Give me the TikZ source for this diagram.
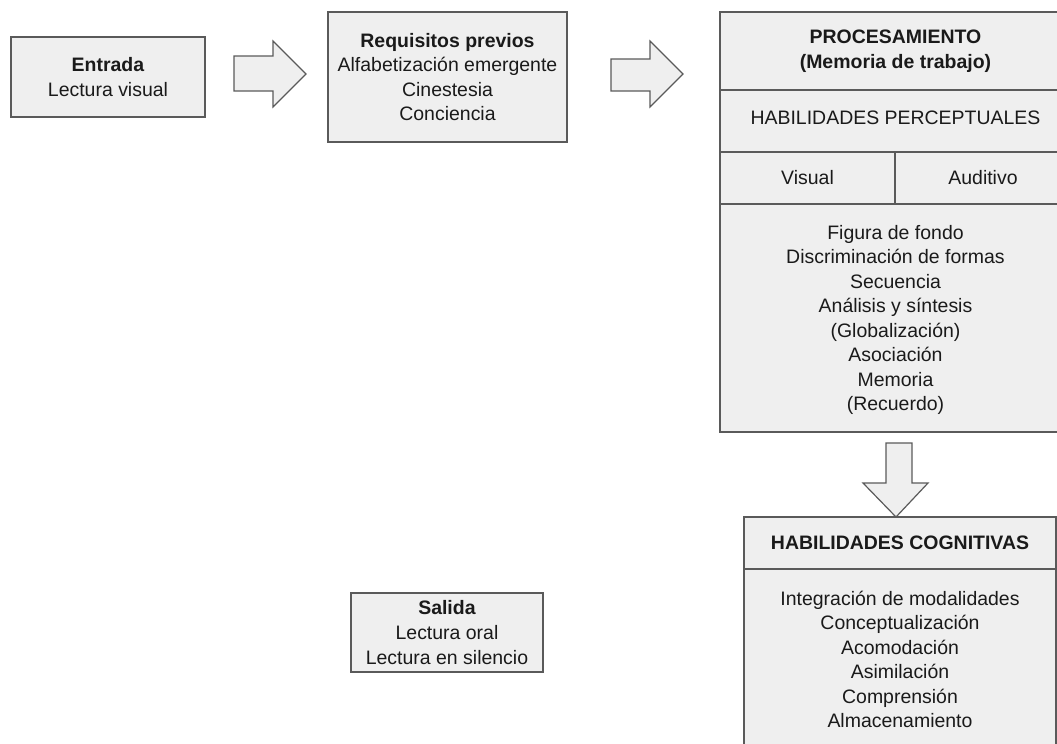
\documentclass[tikz,border=0pt]{standalone}
\usepackage{fontspec}
\setmainfont{Liberation Sans}
\definecolor{boxfill}{HTML}{EFEFEF}
\definecolor{boxline}{HTML}{5A5A5A}
\definecolor{ink}{HTML}{1A1A1A}
\newcommand{\txtfont}{\fontsize{14.6pt}{18.4pt}\selectfont}
\begin{document}
\begin{tikzpicture}[x=0.75pt,y=-0.75pt,
  box/.style={draw=boxline, fill=boxfill, line width=1pt, inner sep=0pt,
    align=center, font=\txtfont, text=ink},
  txt/.style={inner sep=0pt, align=center, font=\txtfont, text=ink},
  blockarrow/.style={draw=boxline, fill=boxfill, line width=0.9pt, line join=miter}]
\useasboundingbox (0,0) rectangle (1057,743);
\clip (0,0) rectangle (1057,743);

% Entrada
\node[box, minimum width=145.5pt, minimum height=60pt] (entrada) at (108,77)
  {\textbf{Entrada}\\Lectura visual};

% Requisitos previos
\node[box, minimum width=179.25pt, minimum height=97.5pt] (req) at (447.5,77)
  {\textbf{Requisitos previos}\\Alfabetización emergente\\Cinestesia\\Conciencia};

% Procesamiento
\node[box, minimum width=263.25pt, minimum height=58.5pt] (proc) at (895.5,51)
  {\textbf{PROCESAMIENTO}\\\textbf{(Memoria de trabajo)}};
\node[box, minimum width=263.25pt, minimum height=46.5pt] (perc) at (895.5,121) {};
\node[txt] (perctext) at (895.5,118) {HABILIDADES PERCEPTUALES};
\node[box, minimum width=131.25pt, minimum height=39pt] (vis) at (807.5,178) {Visual};
\node[box, minimum width=132pt, minimum height=39pt] (aud) at (983,178) {Auditivo};
\node[box, minimum width=263.25pt, minimum height=171pt] (plist) at (895.5,318) {};
\node[txt, baseline] (plisttext) at (895.5,320)
  {Figura de fondo\\Discriminación de formas\\Secuencia\\Análisis y síntesis\\(Globalización)\\Asociación\\Memoria\\(Recuerdo)};

% Habilidades cognitivas
\node[box, minimum width=234pt, minimum height=39pt] (cog) at (900,543)
  {\textbf{HABILIDADES COGNITIVAS}};
\node[box, minimum width=234pt, minimum height=143.25pt] (coglist) at (900,664.5) {};
\node[txt] (cogtext) at (900,659.5)
  {Integración de modalidades\\Conceptualización\\Acomodación\\Asimilación\\Comprensión\\Almacenamiento};

% Salida
\node[box, minimum width=144pt, minimum height=59.25pt] (salida) at (447,632.5)
  {\textbf{Salida}\\Lectura oral\\Lectura en silencio};

% Block arrows
\draw[blockarrow] (234,56) -- (273,56) -- (273,41) -- (306,74) -- (273,107) -- (273,91) -- (234,91) -- cycle;
\draw[blockarrow] (611,59) -- (650,59) -- (650,41) -- (683,74) -- (650,107) -- (650,91) -- (611,91) -- cycle;
\draw[blockarrow] (886,443) -- (912,443) -- (912,483) -- (928,483) -- (896,517) -- (863,483) -- (886,483) -- cycle;
\end{tikzpicture}
\end{document}
